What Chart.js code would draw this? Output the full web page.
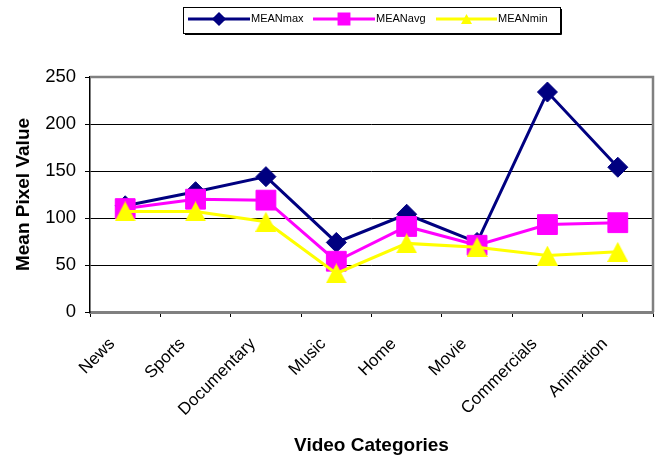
<!DOCTYPE html>
<html>
<head>
<meta charset="utf-8">
<script src="https://cdn.jsdelivr.net/npm/chart.js@4.4.1/dist/chart.umd.min.js"></script>
<style>
body{margin:0;background:#fff;}
canvas{display:block;}
</style>
</head>
<body>
<canvas id="lineChart" width="657" height="458"></canvas>
<script>

const categories = ["News","Sports","Documentary","Music","Home","Movie","Commercials","Animation"]

const meanMax = [113, 128, 144, 74, 104, 74, 234, 154]
const meanAvg = [110, 120, 119, 54, 91, 71, 93, 95]
const meanMin = [107, 107, 96, 41, 73, 69, 60, 64]

const seriesNames = ["MEANmax","MEANavg","MEANmin"]
const yTicks = [0, 50, 100, 150, 200, 250]

const FONT = "'Liberation Sans', Arial, sans-serif"

/* excel centers the triangle on its box, chart.js on the circumcenter -> use a small image */
function triangleImage(color,w,h){
const c = document.createElement("canvas")
c.width = w
c.height = h
const g = c.getContext("2d")
g.fillStyle = color
g.beginPath()
g.moveTo(w/2,0); g.lineTo(w,h); g.lineTo(0,h)
g.closePath()
g.fill()
return c
}

const triBig = triangleImage("#FFFF00",21,20)
const triSmall = triangleImage("#FFFF00",11,10)

/* legend in a box at the top, line + marker like excel */
const boxLegend = {
id:"boxLegend",
afterDraw(chart){
const ctx = chart.ctx
const spots = [[188,250],[313,375],[436,497]]
const cy = 19
ctx.save()
ctx.fillStyle = "#fff"
ctx.fillRect(183,7,377,26)
ctx.strokeStyle = "#000"
ctx.lineWidth = 1
ctx.strokeRect(183.5,7.5,377,26)
ctx.beginPath()
ctx.moveTo(185,34.5); ctx.lineTo(561.5,34.5); ctx.lineTo(561.5,9)
ctx.stroke()
chart.data.datasets.forEach((ds,i)=>{
const [a,b] = spots[i]
ctx.strokeStyle = ds.borderColor
ctx.lineWidth = 3
ctx.beginPath()
ctx.moveTo(a,cy); ctx.lineTo(b,cy)
ctx.stroke()
ctx.fillStyle = ds.backgroundColor
Chart.helpers.drawPoint(ctx,{pointStyle:ds.legendStyle,radius:ds.legendRadius,rotation:0,borderWidth:1},(a+b)/2,cy)
ctx.fillStyle = "#000"
ctx.font = "11px " + FONT
ctx.textBaseline = "middle"
ctx.textAlign = "left"
ctx.fillText(ds.label,b+1,cy)
})
ctx.restore()
}
}

/* gray frame on top and right of the plot */
const plotFrame = {
id:"plotFrame",
beforeDatasetsDraw(chart){
const {ctx, chartArea:a} = chart
ctx.save()
ctx.strokeStyle = "#808080"
ctx.lineWidth = 2.5
ctx.beginPath()
ctx.moveTo(a.left,a.top)
ctx.lineTo(a.right,a.top)
ctx.lineTo(a.right,a.bottom)
ctx.stroke()
ctx.restore()
}
}

const ctx = document.getElementById("lineChart")

new Chart(ctx,{
type:"line",

data:{
labels:categories,

datasets:[{
label:seriesNames[0],
data:meanMax,
borderColor:"#000080",
backgroundColor:"#000080",
pointStyle:"rectRot",
legendStyle:"rectRot",
pointRadius:10,
legendRadius:5,
borderWidth:3,
pointBorderWidth:1,
order:3
},{
label:seriesNames[1],
data:meanAvg,
borderColor:"#FF00FF",
backgroundColor:"#FF00FF",
pointStyle:"rect",
legendStyle:"rect",
pointRadius:14,
legendRadius:7,
borderWidth:3,
pointBorderWidth:1,
order:2
},{
label:seriesNames[2],
data:meanMin,
borderColor:"#FFFF00",
backgroundColor:"#FFFF00",
pointStyle:triBig,
legendStyle:triSmall,
pointRadius:12,
legendRadius:6,
borderWidth:3,
pointBorderWidth:1,
order:1
}]
},

options:{
responsive:false,
animation:false,
layout:{autoPadding:false,padding:{left:0,right:4,top:77,bottom:0}},
plugins:{
legend:{display:false},
tooltip:{enabled:false}
},
scales:{
x:{
offset:true,
grid:{display:true,drawOnChartArea:false,offset:true,tickLength:5,color:"#000",lineWidth:1},
border:{color:"#808080",width:3},
ticks:{
minRotation:45,maxRotation:45,autoSkip:false,
color:"#000",
font:{family:FONT,size:17},
padding:17,
labelOffset:-13
},
title:{display:true,text:"Video Categories",color:"#000",
font:{family:FONT,size:19,weight:"bold"},padding:{top:0,bottom:1}},
afterFit(scale){
scale.height = 146
scale.paddingLeft = 0
scale.paddingRight = 0
}
},
y:{
min:0,max:250,
afterBuildTicks(scale){ scale.ticks = yTicks.map(v=>({value:v})) },
grid:{color:"#000",lineWidth:1,tickLength:5},
border:{color:"#000",width:1.5},
ticks:{color:"#000",font:{family:FONT,size:18.5},padding:9},
title:{display:true,text:"Mean Pixel Value",color:"#000",
font:{family:FONT,size:19,weight:"bold"},padding:{top:12,bottom:0}},
afterFit(scale){ scale.width = 90 }
}
}
},

plugins:[plotFrame,boxLegend]

})

</script>
</body>
</html>
